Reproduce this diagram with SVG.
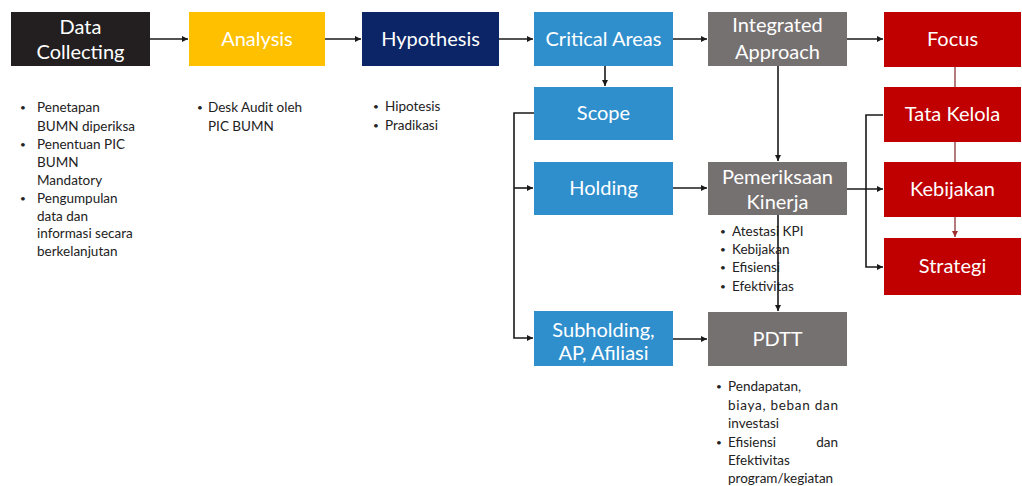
<svg xmlns="http://www.w3.org/2000/svg" width="1022" height="486" viewBox="0 0 1022 486">
<style>
.t{font-family:Lato,"Open Sans","Liberation Sans",sans-serif;font-size:20px;fill:#fff;text-anchor:middle}
.b{font-family:Lato,"Open Sans","Liberation Sans",sans-serif;font-size:13.5px;fill:#222}
.d{font-size:10px}
.ln{fill:none;stroke:#1a1a1a;stroke-width:1.6}
.rl{fill:none;stroke:#a05a5a;stroke-width:1.6}
.black{fill:#231f20}.gold{fill:#ffc000}.navy{fill:#0c2566}.blue{fill:#2f8fcd}.gray{fill:#767171}.red{fill:#c00000}
</style>
<defs>
<marker id="a" viewBox="0 0 8 8" refX="8" refY="4" markerWidth="6" markerHeight="6" markerUnits="userSpaceOnUse" orient="auto"><path d="M0,0L8,4L0,8z" fill="#1a1a1a"/></marker>
<marker id="ar" viewBox="0 0 8 8" refX="8" refY="4" markerWidth="6" markerHeight="6" markerUnits="userSpaceOnUse" orient="auto"><path d="M0,0L8,4L0,8z" fill="#a03030"/></marker>
</defs>
<rect width="1022" height="486" fill="#fff"/>
<g id="connectors">
<path class="ln" d="M150,39H188" marker-end="url(#a)"/>
<path class="ln" d="M325,39H361" marker-end="url(#a)"/>
<path class="ln" d="M499,39H533" marker-end="url(#a)"/>
<path class="ln" d="M673,39H707" marker-end="url(#a)"/>
<path class="ln" d="M847,39H883" marker-end="url(#a)"/>
<path class="ln" d="M605,66V86" marker-end="url(#a)"/>
<path class="ln" d="M534,113H514V338H533" marker-end="url(#a)"/>
<path class="ln" d="M514,188H533" marker-end="url(#a)"/>
<path class="ln" d="M673,188H707" marker-end="url(#a)"/>
<path class="ln" d="M673,339H707" marker-end="url(#a)"/>
<path class="ln" d="M778,66V161" marker-end="url(#a)"/>
<path class="ln" d="M847,189H883" marker-end="url(#a)"/>
<path class="ln" d="M883,115H866V267H883" marker-end="url(#a)"/>
<path class="rl" d="M955,67V87"/>
<path class="rl" d="M955,142V162"/>
<path class="rl" d="M955,217V237" marker-end="url(#ar)"/>
</g>
<g id="data-collecting"><rect class="black" x="11" y="12" width="139" height="54"/><text class="t" x="80.5" y="34">Data</text><text class="t" x="80.5" y="59">Collecting</text></g>
<g id="analysis"><rect class="gold" x="189" y="12" width="136" height="54"/><text class="t" x="257" y="46">Analysis</text></g>
<g id="hypothesis"><rect class="navy" x="362" y="12" width="137" height="54"/><text class="t" x="430.5" y="46">Hypothesis</text></g>
<g id="critical-areas"><rect class="blue" x="534" y="12" width="139" height="54"/><text class="t" x="603.5" y="46">Critical Areas</text></g>
<g id="integrated-approach"><rect class="gray" x="708" y="12" width="139" height="54"/><text class="t" x="777.5" y="32">Integrated</text><text class="t" x="777.5" y="59">Approach</text></g>
<g id="focus"><rect class="red" x="884" y="12" width="137" height="55"/><text class="t" x="952.5" y="46">Focus</text></g>
<g id="scope"><rect class="blue" x="534" y="87" width="139" height="53"/><text class="t" x="603.5" y="120">Scope</text></g>
<g id="holding"><rect class="blue" x="534" y="162" width="139" height="53"/><text class="t" x="603.5" y="195">Holding</text></g>
<g id="subholding"><rect class="blue" x="534" y="311" width="139" height="55"/><text class="t" x="603.5" y="337">Subholding,</text><text class="t" x="603.5" y="360">AP, Afiliasi</text></g>
<g id="pemeriksaan-kinerja"><rect class="gray" x="708" y="162" width="139" height="53"/><text class="t" x="777.5" y="184">Pemeriksaan</text><text class="t" x="777.5" y="209">Kinerja</text></g>
<g id="pdtt"><rect class="gray" x="708" y="312" width="139" height="54"/><text class="t" x="777.5" y="346">PDTT</text></g>
<g id="tata-kelola"><rect class="red" x="884" y="87" width="137" height="55"/><text class="t" x="952.5" y="121">Tata Kelola</text></g>
<g id="kebijakan"><rect class="red" x="884" y="162" width="137" height="55"/><text class="t" x="952.5" y="196">Kebijakan</text></g>
<g id="strategi"><rect class="red" x="884" y="238" width="137" height="57"/><text class="t" x="952.5" y="273">Strategi</text></g>
<g id="notes-data-collecting" class="b">
<text class="d" x="20" y="111">•</text><text x="37" y="112">Penetapan</text>
<text x="37" y="131">BUMN diperiksa</text>
<text class="d" x="20" y="148">•</text><text x="37" y="149">Penentuan PIC</text>
<text x="37" y="167">BUMN</text>
<text x="37" y="185">Mandatory</text>
<text class="d" x="20" y="202">•</text><text x="37" y="203">Pengumpulan</text>
<text x="37" y="221">data dan</text>
<text x="37" y="238">informasi secara</text>
<text x="37" y="256">berkelanjutan</text>
</g>
<g id="notes-analysis" class="b">
<text class="d" x="197" y="111">•</text><text x="208" y="112">Desk Audit oleh</text>
<text x="208" y="131">PIC BUMN</text>
</g>
<g id="notes-hypothesis" class="b">
<text class="d" x="373" y="110">•</text><text x="385" y="111">Hipotesis</text>
<text class="d" x="373" y="129">•</text><text x="385" y="130">Pradikasi</text>
</g>
<g id="notes-pemeriksaan" class="b">
<text class="d" x="720" y="235">•</text><text x="732" y="236">Atestasi KPI</text>
<text class="d" x="720" y="253">•</text><text x="732" y="254">Kebijakan</text>
<text class="d" x="720" y="271">•</text><text x="732" y="272">Efisiensi</text>
<text class="d" x="720" y="290">•</text><text x="732" y="291">Efektivitas</text>
</g>
<path class="ln" d="M778,215V311" marker-end="url(#a)"/>
<g id="notes-pdtt" class="b">
<text class="d" x="716" y="390">•</text><text x="728" y="391">Pendapatan,</text>
<text x="728" y="410" textLength="110" lengthAdjust="spacing">biaya, beban dan</text>
<text x="728" y="428">investasi</text>
<text class="d" x="716" y="446">•</text><text x="728" y="447">Efisiensi</text><text x="838" y="447" text-anchor="end">dan</text>
<text x="728" y="465">Efektivitas</text>
<text x="728" y="483">program/kegiatan</text>
</g>
</svg>
